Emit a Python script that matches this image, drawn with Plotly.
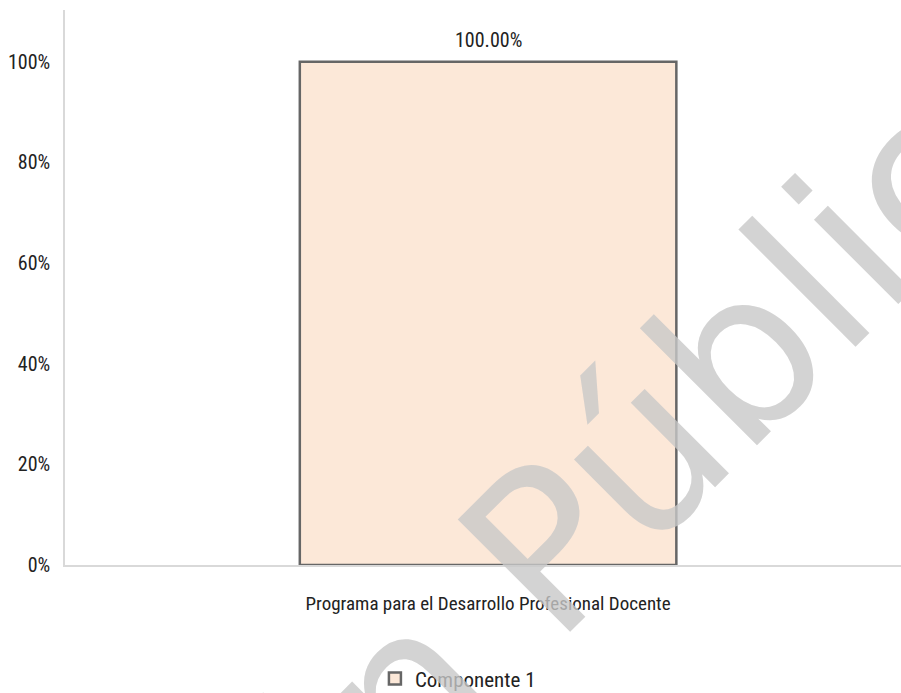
import plotly.graph_objects as go

categories = ["Programa para el Desarrollo Profesional Docente"]
values = [1.0]
series_name = "Componente 1"
tick_vals = [0, 0.2, 0.4, 0.6, 0.8, 1.0]
tick_text = ["0%", "20%", "40%", "60%", "80%", "100%"]
watermark = "Versión Pública"

FONT = "Liberation Sans Narrow, Arial Narrow, Roboto Condensed, Liberation Sans, sans-serif"

fig = go.Figure()
fig.add_trace(go.Bar(
    x=categories,
    y=values,
    name=series_name,
    width=0.445,
    marker=dict(color="#FCE8D8", line=dict(color="#666666", width=2.5)),
    cliponaxis=False,
    showlegend=True,
))

annotations = [dict(
    x=c, y=v, xref="x", yref="y", text=f"{v*100:.2f}%", showarrow=False,
    yanchor="bottom", yshift=8, font=dict(family=FONT, size=20, color="#222"),
) for c, v in zip(categories, values)]

annotations.append(dict(
    text=watermark, xref="paper", yref="paper", x=0.483, y=-0.11,
    xanchor="center", yanchor="middle",
    showarrow=False, textangle=-45,
    font=dict(family="DejaVu Sans, Lato, sans-serif", size=218, color="rgba(200,200,200,0.8)"),
))

fig.update_layout(
    width=901, height=693,
    margin=dict(l=65, r=0, t=10, b=128, autoexpand=False),
    paper_bgcolor="white", plot_bgcolor="white",
    font=dict(family=FONT, color="#222"),
    showlegend=True,
    legend=dict(orientation="h", x=0.47, xanchor="center", y=-0.205, yanchor="middle",
                itemwidth=30,
                font=dict(family=FONT, size=21, color="#222")),
    xaxis=dict(range=[-0.5, 0.488], showgrid=False, showline=True, linecolor="#d9d9d9",
               linewidth=1.5, ticks="", tickfont=dict(family=FONT, size=19, color="#222"),
               ticklabelstandoff=20),
    yaxis=dict(range=[0, 1.103], tickvals=tick_vals, ticktext=tick_text, showgrid=False,
               showline=True, linecolor="#d9d9d9", linewidth=1.5, ticks="",
               tickfont=dict(family=FONT, size=20, color="#222"), ticklabelstandoff=9,
               zeroline=False),
    annotations=annotations,
)

fig.write_html("out.html")
